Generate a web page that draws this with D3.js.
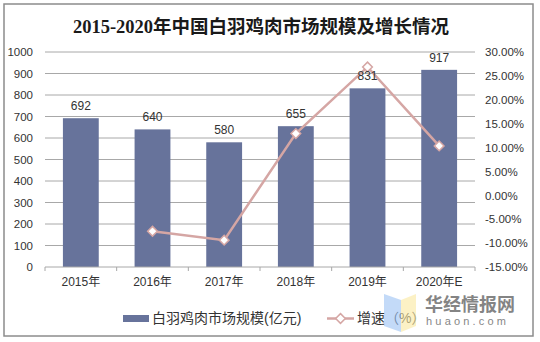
<!DOCTYPE html>
<html>
<head>
<meta charset="utf-8">
<script src="https://cdn.jsdelivr.net/npm/d3@7/dist/d3.min.js"></script>
<style>
  body { margin: 0; background: #fff; }
  text { font-family: "Liberation Sans", Arial, "Noto Sans CJK SC", sans-serif; fill: #333; }
</style>
</head>
<body>
<svg class="chart"></svg>
<script>
/* Combo chart: market size bars + growth rate line */

var years = ["2015年", "2016年", "2017年", "2018年", "2019年", "2020年E"];
var marketSize = [692, 640, 580, 655, 831, 917];
// growth in %, first year has none
var growth = [null, -7.51, -9.38, 12.93, 26.87, 10.35];
var leftTicks = [0, 100, 200, 300, 400, 500, 600, 700, 800, 900, 1000];
var rightTicks = [-15, -10, -5, 0, 5, 10, 15, 20, 25, 30];

var barColor = "#67739b",
	lineColor = "#d5a6a4",
	gridColor = "#a8a8a8";

var width = 540, height = 342;
var plot = {left: 45, right: 475, top: 52, bottom: 267};

var svg = d3.select(".chart")
	.attr("width", width)
	.attr("height", height);

// outer frame
svg.append("rect")
	.attr("x", 4).attr("y", 4)
	.attr("width", 529).attr("height", 332)
	.attr("fill", "#fff")
	.attr("stroke", "#8c8c8c")
	.attr("stroke-width", 1.5);

svg.append("text")
	.attr("x", 261)
	.attr("y", 33)
	.attr("text-anchor", "middle")
	.style("font-family", "'Liberation Serif', 'Noto Sans CJK SC', serif")
	.style("font-size", "18.5px")
	.style("font-weight", "bold")
	.style("fill", "#1a1a1a")
	.text("2015-2020年中国白羽鸡肉市场规模及增长情况");

var x = d3.scaleBand()
	.domain(years)
	.range([plot.left, plot.right])
	.paddingInner(0.5)
	.paddingOuter(0.25);

var yL = d3.scaleLinear()
	.domain([0, 1000])
	.range([plot.bottom, plot.top]);

var yR = d3.scaleLinear()
	.domain([-15, 30])
	.range([plot.bottom, plot.top]);

// gridlines
svg.append("g")
	.selectAll("line")
	.data(leftTicks.slice(1))
	.enter().append("line")
	.attr("x1", plot.left).attr("x2", plot.right)
	.attr("y1", function(d) { return yL(d); })
	.attr("y2", function(d) { return yL(d); })
	.attr("stroke", gridColor)
	.attr("stroke-width", 1);

// left axis labels
var leftAxis = d3.axisLeft(yL)
	.tickValues(leftTicks)
	.tickSize(0)
	.tickPadding(12)
	.tickFormat(d3.format("d"));
svg.append("g")
	.attr("transform", "translate(" + plot.left + ",0)")
	.call(leftAxis)
	.call(function(g) {
		g.select(".domain").remove();
		g.selectAll("text").style("font-size", "11.5px").attr("fill", "#333");
	});

// right axis labels
var rightAxis = d3.axisRight(yR)
	.tickValues(rightTicks)
	.tickSize(0)
	.tickPadding(10)
	.tickFormat(function(d) { return d.toFixed(2) + "%"; });
svg.append("g")
	.attr("transform", "translate(" + plot.right + ",0)")
	.call(rightAxis)
	.call(function(g) {
		g.select(".domain").remove();
		g.selectAll("text").style("font-size", "11.5px").attr("fill", "#333");
	});

// bars
svg.selectAll(".bar")
	.data(marketSize)
	.enter().append("rect")
	.attr("class", "bar")
	.attr("x", function(d, i) { return x(years[i]); })
	.attr("y", function(d) { return yL(d); })
	.attr("width", x.bandwidth())
	.attr("height", function(d) { return plot.bottom - yL(d); })
	.attr("fill", barColor);

// x axis
var xAxis = d3.axisBottom(x).tickSize(0).tickPadding(10);
svg.append("g")
	.attr("transform", "translate(0," + plot.bottom + ")")
	.call(xAxis)
	.call(function(g) {
		g.select(".domain").attr("stroke", gridColor).attr("d", "M" + plot.left + ",0H" + plot.right);
		g.selectAll("text").style("font-size", "12px").attr("fill", "#333");
	});

// x tick marks on band boundaries
var bounds = years.map(function(d) { return x(d) - x.step() * x.paddingInner() / 2; });
bounds.push(plot.right);
svg.append("g")
	.selectAll("line")
	.data(bounds)
	.enter().append("line")
	.attr("x1", function(d) { return d; })
	.attr("x2", function(d) { return d; })
	.attr("y1", plot.bottom)
	.attr("y2", plot.bottom + 4)
	.attr("stroke", gridColor);

// growth line
var pts = growth.map(function(d, i) { return {year: years[i], v: d}; })
	.filter(function(d) { return d.v !== null; });

var line = d3.line()
	.x(function(d) { return x(d.year) + x.bandwidth() / 2; })
	.y(function(d) { return yR(d.v); });

svg.append("path")
	.datum(pts)
	.attr("d", line)
	.attr("fill", "none")
	.attr("stroke", lineColor)
	.attr("stroke-width", 2.5);

var diamond = d3.symbol().type(d3.symbolDiamond2).size(60);
svg.selectAll(".marker")
	.data(pts)
	.enter().append("path")
	.attr("class", "marker")
	.attr("transform", function(d) {
		return "translate(" + (x(d.year) + x.bandwidth() / 2) + "," + yR(d.v) + ")";
	})
	.attr("d", diamond)
	.attr("fill", "#fff")
	.attr("stroke", lineColor)
	.attr("stroke-width", 1.5);

// value labels
svg.selectAll(".vlabel")
	.data(marketSize)
	.enter().append("text")
	.attr("class", "vlabel")
	.attr("x", function(d, i) { return x(years[i]) + x.bandwidth() / 2; })
	.attr("y", function(d) { return yL(d) - 8; })
	.attr("text-anchor", "middle")
	.style("font-size", "12px")
	.attr("fill", "#222")
	.text(function(d) { return d; });

// legend
var legend = svg.append("g");
legend.append("rect")
	.attr("x", 123).attr("y", 315)
	.attr("width", 26).attr("height", 7)
	.attr("fill", barColor);
legend.append("text")
	.attr("x", 152).attr("y", 323)
	.style("font-size", "14px")
	.text("白羽鸡肉市场规模(亿元)");
legend.append("line")
	.attr("x1", 327).attr("x2", 354)
	.attr("y1", 318.5).attr("y2", 318.5)
	.attr("stroke", lineColor)
	.attr("stroke-width", 2.5);
legend.append("path")
	.attr("transform", "translate(340.5,318.5)")
	.attr("d", diamond)
	.attr("fill", "#fff")
	.attr("stroke", lineColor)
	.attr("stroke-width", 1.5);
legend.append("text")
	.attr("x", 357).attr("y", 323)
	.style("font-size", "14px")
	.text("增速（%）");

// watermark
var wm = svg.append("g").attr("opacity", 0.6);
wm.append("path")
	.attr("d", "M384,294 L401,300 L401,332 L384,326 Z")
	.attr("fill", "#9cc3f5");
wm.append("path")
	.attr("d", "M401,300 L416,294 L416,326 L401,332 Z")
	.attr("fill", "#fbe9a0");
wm.append("text")
	.attr("x", 425).attr("y", 311)
	.style("font-size", "18px")
	.style("font-weight", "bold")
	.style("font-family", "'Noto Sans CJK SC', sans-serif")
	.attr("fill", "#bcbcbc")
	.text("华经情报网");
wm.append("text")
	.attr("x", 426).attr("y", 325)
	.style("font-size", "11px")
	.style("letter-spacing", "3.2px")
	.attr("fill", "#c8c8c8")
	.text("huaon.com");
</script>
</body>
</html>
